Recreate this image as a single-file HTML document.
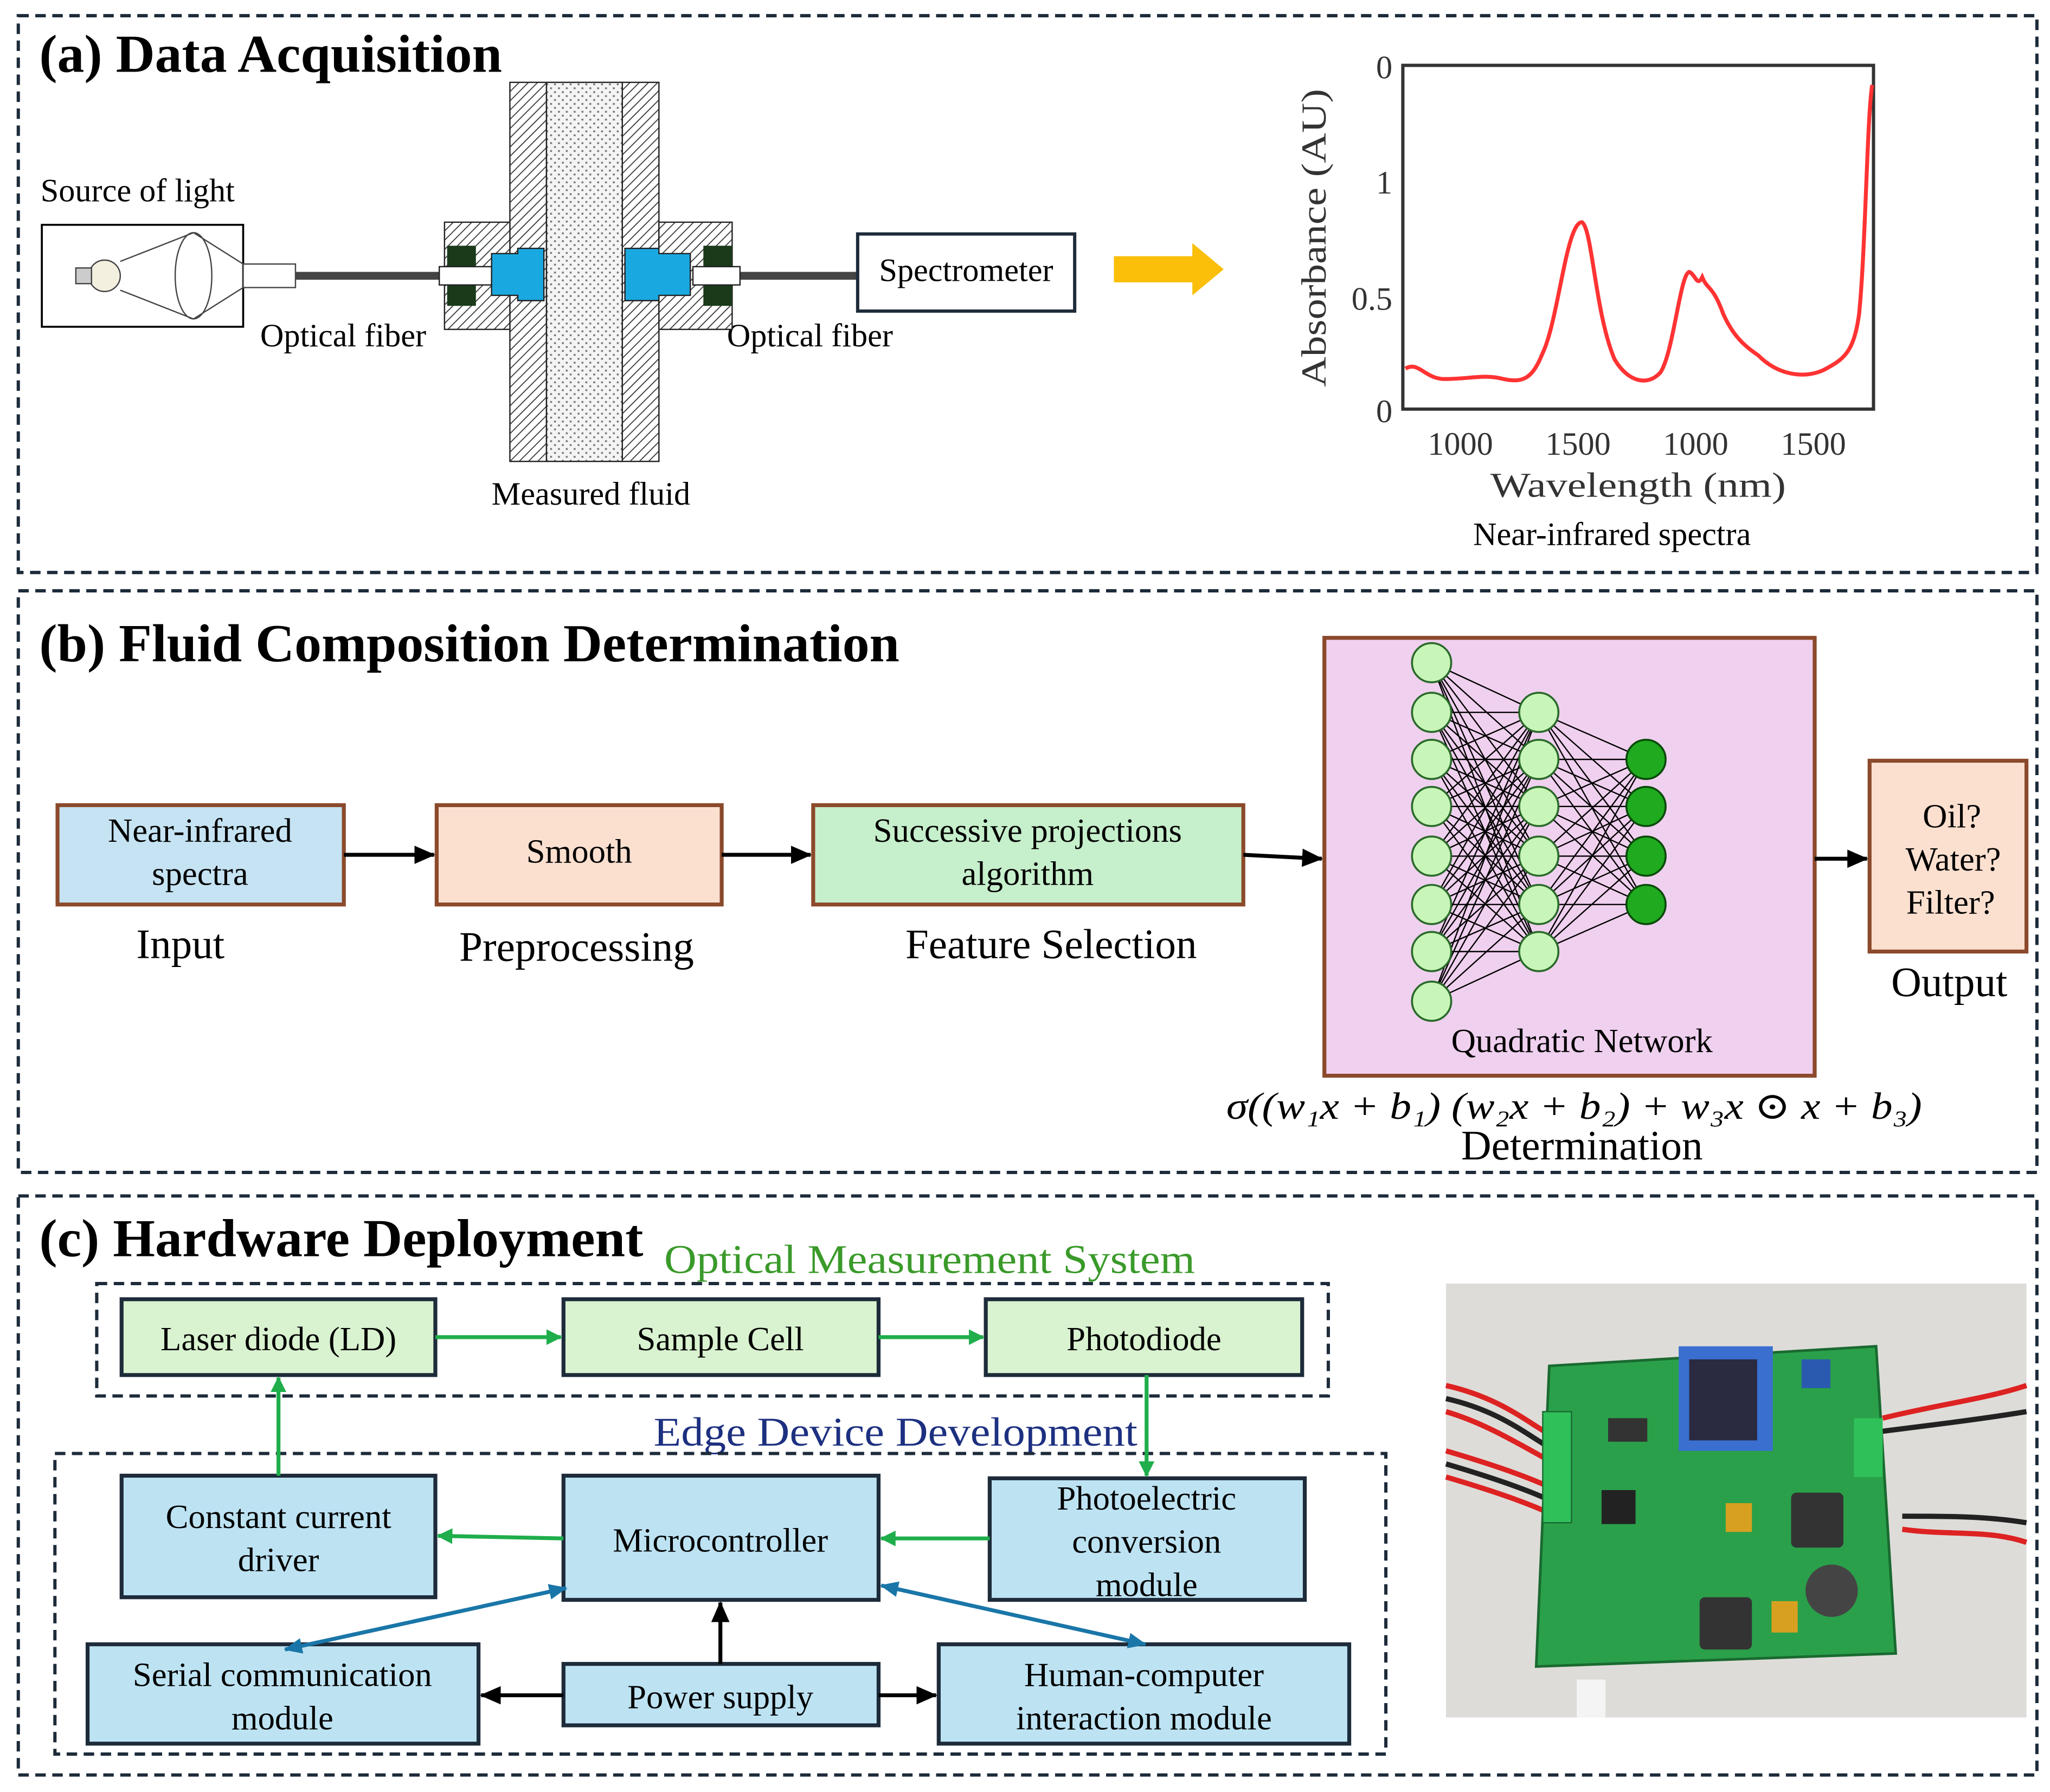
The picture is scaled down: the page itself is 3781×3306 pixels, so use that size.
<!DOCTYPE html>
<html><head><meta charset="utf-8"><style>
html,body{margin:0;padding:0;background:#fff;}
svg{display:block;}
text{font-family:"Liberation Serif","DejaVu Serif",serif;}
</style></head><body>
<svg width="3781" height="3306" viewBox="0 0 1568 1371" preserveAspectRatio="none" xmlns="http://www.w3.org/2000/svg">
<defs>
<pattern id="hatch" width="5" height="5" patternUnits="userSpaceOnUse" patternTransform="rotate(45)">
<rect width="5" height="5" fill="#fff"/><line x1="0" y1="0" x2="0" y2="5" stroke="#444" stroke-width="1.6"/></pattern>
<pattern id="dots" width="6" height="6" patternUnits="userSpaceOnUse">
<rect width="6" height="6" fill="#f4f4f4"/><circle cx="1.5" cy="1.5" r="0.8" fill="#777"/><circle cx="4.5" cy="4.5" r="0.8" fill="#777"/></pattern>
<marker id="ag" markerWidth="12" markerHeight="12" refX="11" refY="6" orient="auto" markerUnits="userSpaceOnUse"><path d="M0,0 L12,6 L0,12 z" fill="#1fae4b"/></marker>
<marker id="ab" markerWidth="14" markerHeight="12" refX="13" refY="6" orient="auto" markerUnits="userSpaceOnUse"><path d="M0,0 L14,6 L0,12 z" fill="#1a76a8"/></marker>
<marker id="abs" markerWidth="14" markerHeight="12" refX="1" refY="6" orient="auto" markerUnits="userSpaceOnUse"><path d="M14,0 L0,6 L14,12 z" fill="#1a76a8"/></marker>
<marker id="ak2" markerWidth="16" markerHeight="14" refX="15" refY="7" orient="auto" markerUnits="userSpaceOnUse"><path d="M0,0 L16,7 L0,14 z" fill="#000"/></marker>
</defs>
<rect width="1568" height="1371" fill="#fff"/>
<g fill="none" stroke="#1d2b3a" stroke-width="2.5" stroke-dasharray="8,5">
<rect x="14" y="12" width="1544" height="426"/>
<rect x="14" y="452" width="1544" height="445"/>
<rect x="14" y="915" width="1544" height="443"/>
</g>
<!-- (a) -->
<text x="30" y="55" font-size="41" font-weight="bold" textLength="354" lengthAdjust="spacingAndGlyphs">(a) Data Acquisition</text>
<text x="31" y="154" font-size="25">Source of light</text>
<rect x="32" y="172" width="154" height="78" fill="#fff" stroke="#000" stroke-width="1.5"/>
<circle cx="80" cy="211" r="12" fill="#f3f0e0" stroke="#444"/>
<rect x="58" y="205" width="12" height="12" fill="#ccc" stroke="#444"/>
<ellipse cx="148" cy="211" rx="14" ry="33" fill="#fff" stroke="#444"/>
<path d="M92 200 L148 178 M92 222 L148 244 M148 178 L186 202 M148 244 L186 220" stroke="#444" fill="none"/>
<rect x="186" y="202" width="40" height="18" fill="#fff" stroke="#444"/>
<rect x="226" y="208" width="114" height="6" fill="#444"/>
<rect x="566" y="208" width="90" height="6" fill="#444"/>
<text x="199" y="265" font-size="25">Optical fiber</text>
<text x="556" y="265" font-size="25">Optical fiber</text>
<rect x="390" y="63" width="28" height="290" fill="url(#hatch)" stroke="#222"/>
<rect x="476" y="63" width="28" height="290" fill="url(#hatch)" stroke="#222"/>
<rect x="418" y="63" width="58" height="290" fill="url(#dots)" stroke="#222"/>
<rect x="340" y="170" width="50" height="82" fill="url(#hatch)" stroke="#222"/>
<rect x="504" y="170" width="56" height="82" fill="url(#hatch)" stroke="#222"/>
<rect x="342" y="188" width="22" height="46" fill="#1a3a1a"/>
<rect x="538" y="188" width="22" height="46" fill="#1a3a1a"/>
<rect x="336" y="204" width="40" height="14" fill="#fff" stroke="#222"/>
<rect x="530" y="204" width="36" height="14" fill="#fff" stroke="#222"/>
<path d="M376 194 L396 194 L396 190 L416 190 L416 230 L396 230 L396 226 L376 226 Z" fill="#1aa8e0" stroke="#222"/>
<path d="M528 194 L504 194 L504 190 L478 190 L478 230 L504 230 L504 226 L528 226 Z" fill="#1aa8e0" stroke="#222"/>
<text x="376" y="386" font-size="25">Measured fluid</text>
<rect x="656" y="179" width="166" height="59" fill="#fff" stroke="#1d2b3a" stroke-width="2.5"/>
<text x="739" y="215" font-size="25" text-anchor="middle">Spectrometer</text>
<path d="M852 196 L912 196 L912 186 L936 206 L912 226 L912 216 L852 216 Z" fill="#fbbf0a"/>
<rect x="1073" y="50" width="360" height="263" fill="#fff" stroke="#333" stroke-width="2.5"/>
<g font-size="25" fill="#333">
<text x="1065" y="60" text-anchor="end">0</text>
<text x="1065" y="148" text-anchor="end">1</text>
<text x="1065" y="237" text-anchor="end">0.5</text>
<text x="1065" y="323" text-anchor="end">0</text>
<text x="1117" y="348" text-anchor="middle">1000</text>
<text x="1207" y="348" text-anchor="middle">1500</text>
<text x="1297" y="348" text-anchor="middle">1000</text>
<text x="1387" y="348" text-anchor="middle">1500</text>
<text x="1253" y="380" text-anchor="middle" font-size="27" textLength="226" lengthAdjust="spacingAndGlyphs">Wavelength (nm)</text>
<text transform="translate(1014,182) rotate(-90)" text-anchor="middle" font-size="27" textLength="228" lengthAdjust="spacingAndGlyphs">Absorbance (AU)</text>
</g>
<path d="M1075 282 C1085 276 1090 290 1105 290 C1125 290 1135 286 1150 290 C1165 293 1172 290 1180 270 C1192 245 1198 170 1210 170 C1218 175 1220 240 1235 275 C1245 292 1260 296 1270 285 C1280 270 1285 210 1292 208 C1297 210 1298 220 1302 212 C1306 222 1310 218 1318 240 C1326 258 1335 265 1345 272 C1360 287 1380 290 1395 283 C1410 275 1418 270 1422 240 C1427 190 1428 90 1432 65" fill="none" stroke="#f33" stroke-width="3"/>
<text x="1233" y="417" font-size="25" text-anchor="middle">Near-infrared spectra</text>
<!-- (b) -->
<text x="30" y="506" font-size="41" font-weight="bold" textLength="658" lengthAdjust="spacingAndGlyphs">(b) Fluid Composition Determination</text>
<g stroke="#8b4a2b" stroke-width="3">
<rect x="44" y="616" width="219" height="76" fill="#c5e3f3"/>
<rect x="334" y="616" width="218" height="76" fill="#fbe0d0"/>
<rect x="622" y="616" width="329" height="76" fill="#c6efcb"/>
<rect x="1013" y="488" width="375" height="335" fill="#f0d0ef"/>
<rect x="1430" y="582" width="120" height="146" fill="#fbe0d0"/>
</g>
<g font-size="26" text-anchor="middle">
<text x="153" y="644">Near-infrared</text><text x="153" y="677">spectra</text>
<text x="443" y="660">Smooth</text>
<text x="786" y="644">Successive projections</text><text x="786" y="677">algorithm</text>
<text x="1493" y="633">Oil?</text><text x="1494" y="666">Water?</text><text x="1492" y="699">Filter?</text>
<text x="1210" y="805">Quadratic Network</text>
</g>
<g font-size="32" text-anchor="middle">
<text x="138" y="733">Input</text>
<text x="441" y="735">Preprocessing</text>
<text x="804" y="733">Feature Selection</text>
<text x="1491" y="762">Output</text>
<text x="1210" y="887">Determination</text>
</g>
<text x="938" y="856" font-size="29" font-style="italic" textLength="532" lengthAdjust="spacingAndGlyphs">σ((w₁x + b₁) (w₂x + b₂) + w₃x ⊙ x + b₃)</text>
<g stroke="#000" stroke-width="3" fill="none">
<line x1="263" y1="654" x2="332" y2="654" marker-end="url(#ak2)"/>
<line x1="552" y1="654" x2="620" y2="654" marker-end="url(#ak2)"/>
<line x1="951" y1="654" x2="1011" y2="657" marker-end="url(#ak2)"/>
<line x1="1388" y1="657" x2="1428" y2="657" marker-end="url(#ak2)"/>
</g>
<g stroke="#000" stroke-width="1">
<path d="
M1095 507 L1177 545 M1095 507 L1177 581 M1095 507 L1177 617 M1095 507 L1177 655 M1095 507 L1177 692 M1095 507 L1177 728
M1095 545 L1177 545 M1095 545 L1177 581 M1095 545 L1177 617 M1095 545 L1177 655 M1095 545 L1177 692 M1095 545 L1177 728
M1095 581 L1177 545 M1095 581 L1177 581 M1095 581 L1177 617 M1095 581 L1177 655 M1095 581 L1177 692 M1095 581 L1177 728
M1095 617 L1177 545 M1095 617 L1177 581 M1095 617 L1177 617 M1095 617 L1177 655 M1095 617 L1177 692 M1095 617 L1177 728
M1095 655 L1177 545 M1095 655 L1177 581 M1095 655 L1177 617 M1095 655 L1177 655 M1095 655 L1177 692 M1095 655 L1177 728
M1095 692 L1177 545 M1095 692 L1177 581 M1095 692 L1177 617 M1095 692 L1177 655 M1095 692 L1177 692 M1095 692 L1177 728
M1095 728 L1177 545 M1095 728 L1177 581 M1095 728 L1177 617 M1095 728 L1177 655 M1095 728 L1177 692 M1095 728 L1177 728
M1095 766 L1177 545 M1095 766 L1177 581 M1095 766 L1177 617 M1095 766 L1177 655 M1095 766 L1177 692 M1095 766 L1177 728
M1177 545 L1259 581 M1177 545 L1259 617 M1177 545 L1259 655 M1177 545 L1259 692
M1177 581 L1259 581 M1177 581 L1259 617 M1177 581 L1259 655 M1177 581 L1259 692
M1177 617 L1259 581 M1177 617 L1259 617 M1177 617 L1259 655 M1177 617 L1259 692
M1177 655 L1259 581 M1177 655 L1259 617 M1177 655 L1259 655 M1177 655 L1259 692
M1177 692 L1259 581 M1177 692 L1259 617 M1177 692 L1259 655 M1177 692 L1259 692
M1177 728 L1259 581 M1177 728 L1259 617 M1177 728 L1259 655 M1177 728 L1259 692"/>
</g>
<g fill="#c8f5b8" stroke="#2a6a2a" stroke-width="1.5">
<circle cx="1095" cy="507" r="15"/><circle cx="1095" cy="545" r="15"/><circle cx="1095" cy="581" r="15"/><circle cx="1095" cy="617" r="15"/>
<circle cx="1095" cy="655" r="15"/><circle cx="1095" cy="692" r="15"/><circle cx="1095" cy="728" r="15"/><circle cx="1095" cy="766" r="15"/>
<circle cx="1177" cy="545" r="15"/><circle cx="1177" cy="581" r="15"/><circle cx="1177" cy="617" r="15"/><circle cx="1177" cy="655" r="15"/><circle cx="1177" cy="692" r="15"/><circle cx="1177" cy="728" r="15"/>
</g>
<g fill="#1faa1f" stroke="#0a4a0a" stroke-width="1.5">
<circle cx="1259" cy="581" r="15"/><circle cx="1259" cy="617" r="15"/><circle cx="1259" cy="655" r="15"/><circle cx="1259" cy="692" r="15"/>
</g>
<!-- (c) -->
<text x="30" y="961" font-size="41" font-weight="bold" textLength="462" lengthAdjust="spacingAndGlyphs">(c) Hardware Deployment</text>
<text x="508" y="974" font-size="31" fill="#3a9a2a" textLength="406" lengthAdjust="spacingAndGlyphs">Optical Measurement System</text>
<text x="500" y="1106" font-size="31" fill="#1d3080" textLength="370" lengthAdjust="spacingAndGlyphs">Edge Device Development</text>
<g fill="none" stroke="#1d2b3a" stroke-width="2.5" stroke-dasharray="8,5">
<rect x="74" y="982" width="942" height="86"/>
<rect x="42" y="1112" width="1018" height="230"/>
</g>
<g stroke="#1d2b3a" stroke-width="3">
<rect x="93" y="994" width="240" height="58" fill="#d9f2d0"/>
<rect x="431" y="994" width="241" height="58" fill="#d9f2d0"/>
<rect x="754" y="994" width="242" height="58" fill="#d9f2d0"/>
<rect x="93" y="1129" width="240" height="93" fill="#bde3f3"/>
<rect x="431" y="1129" width="241" height="95" fill="#bde3f3"/>
<rect x="757" y="1131" width="241" height="93" fill="#bde3f3"/>
<rect x="67" y="1258" width="299" height="76" fill="#bde3f3"/>
<rect x="431" y="1273" width="241" height="47" fill="#bde3f3"/>
<rect x="718" y="1258" width="314" height="76" fill="#bde3f3"/>
</g>
<g font-size="26" text-anchor="middle">
<text x="213" y="1033">Laser diode (LD)</text>
<text x="551" y="1033">Sample Cell</text>
<text x="875" y="1033">Photodiode</text>
<text x="213" y="1169">Constant current</text><text x="213" y="1202">driver</text>
<text x="551" y="1187">Microcontroller</text>
<text x="877" y="1155">Photoelectric</text><text x="877" y="1188">conversion</text><text x="877" y="1221">module</text>
<text x="216" y="1290">Serial communication</text><text x="216" y="1323">module</text>
<text x="551" y="1307">Power supply</text>
<text x="875" y="1290">Human-computer</text><text x="875" y="1323">interaction module</text>
</g>
<g stroke="#1fae4b" stroke-width="3" fill="none">
<line x1="333" y1="1023" x2="429" y2="1023" marker-end="url(#ag)"/>
<line x1="672" y1="1023" x2="752" y2="1023" marker-end="url(#ag)"/>
<line x1="877" y1="1052" x2="877" y2="1129" marker-end="url(#ag)"/>
<line x1="757" y1="1177" x2="674" y2="1177" marker-end="url(#ag)"/>
<line x1="431" y1="1177" x2="335" y2="1175" marker-end="url(#ag)"/>
<line x1="213" y1="1129" x2="213" y2="1054" marker-end="url(#ag)"/>
</g>
<g stroke="#1a76a8" stroke-width="3" fill="none">
<line x1="433" y1="1215" x2="218" y2="1262" marker-end="url(#ab)" marker-start="url(#abs)"/>
<line x1="674" y1="1213" x2="876" y2="1258" marker-end="url(#ab)" marker-start="url(#abs)"/>
</g>
<g stroke="#000" stroke-width="3" fill="none">
<line x1="551" y1="1273" x2="551" y2="1226" marker-end="url(#ak2)"/>
<line x1="431" y1="1297" x2="368" y2="1297" marker-end="url(#ak2)"/>
<line x1="672" y1="1297" x2="716" y2="1297" marker-end="url(#ak2)"/>
</g>
<!-- photo -->
<rect x="1106" y="982" width="444" height="332" fill="#dedcd9"/>
<path d="M1106 1060 C1150 1070 1170 1090 1190 1100 M1106 1080 C1140 1090 1170 1110 1190 1120 M1106 1110 C1140 1120 1170 1130 1190 1140 M1106 1130 C1140 1140 1170 1150 1190 1160" stroke="#d22" stroke-width="4" fill="none"/>
<path d="M1106 1070 C1150 1080 1170 1100 1190 1110 M1106 1120 C1140 1130 1170 1140 1190 1150" stroke="#222" stroke-width="4" fill="none"/>
<path d="M1440 1085 C1480 1075 1520 1070 1550 1060 M1455 1170 C1490 1175 1520 1170 1550 1180" stroke="#d22" stroke-width="4" fill="none"/>
<path d="M1440 1095 C1480 1090 1520 1085 1550 1080 M1455 1160 C1490 1160 1520 1160 1550 1165" stroke="#222" stroke-width="4" fill="none"/>
<rect x="1206" y="1285" width="22" height="29" fill="#f4f4f4"/>
<path d="M1185 1045 L1435 1030 L1450 1265 L1175 1275 Z" fill="#2aa04a" stroke="#1a6a30" stroke-width="2"/>
<rect x="1180" y="1080" width="22" height="85" fill="#2fc05a" stroke="#1a6a30"/>
<rect x="1284" y="1030" width="72" height="80" fill="#3a6fd0"/>
<rect x="1292" y="1040" width="52" height="62" fill="#2a2a40"/>
<rect x="1378" y="1040" width="22" height="22" fill="#2a5ab0"/>
<rect x="1418" y="1085" width="22" height="45" fill="#2fc05a"/>
<rect x="1300" y="1222" width="40" height="40" fill="#333" rx="4"/>
<rect x="1370" y="1142" width="40" height="42" fill="#333" rx="4"/>
<circle cx="1401" cy="1217" r="20" fill="#444"/>
<rect x="1225" y="1140" width="26" height="26" fill="#222"/>
<rect x="1355" y="1225" width="20" height="24" fill="#d8a020"/>
<rect x="1320" y="1150" width="20" height="22" fill="#d8a020"/>
<rect x="1230" y="1085" width="30" height="18" fill="#333"/>
</svg>
</body></html>
